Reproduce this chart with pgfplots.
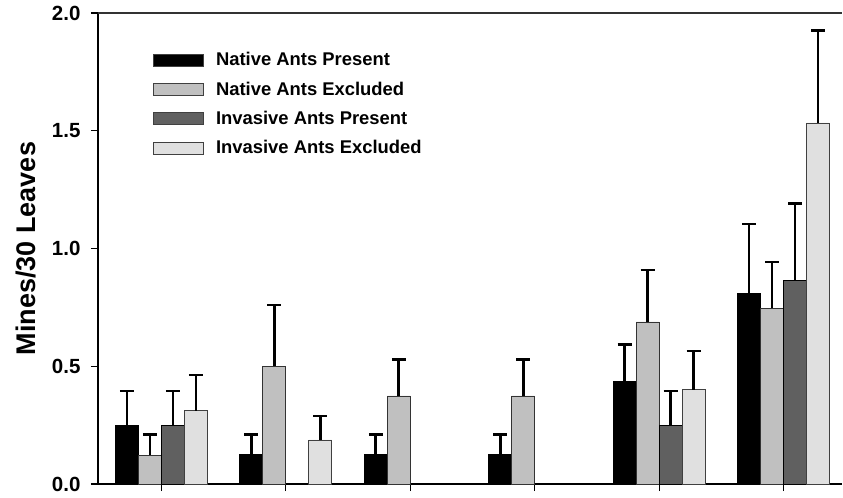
\documentclass[border=0pt]{standalone}
\usepackage{fontspec}
\setmainfont{Liberation Sans}
\usepackage{pgfplots}
\pgfplotsset{compat=1.18}
\definecolor{gA}{HTML}{000000}
\definecolor{gB}{HTML}{C0C0C0}
\definecolor{gC}{HTML}{606060}
\definecolor{gD}{HTML}{E0E0E0}
\begin{document}
\begin{tikzpicture}
\begin{axis}[
  scale only axis,
  width=744pt, height=471pt,
  ybar=0pt, bar width=23pt,
  xmin=0.49, xmax=6.47,
  ymin=0, ymax=2.0,
  axis x line*=bottom, axis y line*=left,
  axis line style={line width=1.5pt, -},
  xtick={1,2,3,4,5,6}, xticklabels={},
  ytick={0,0.5,1,1.5,2},
  tick align=outside, major tick length=7pt,
  tick style={line width=1.2pt, black},
  /pgf/number format/assume math mode=true,
  /pgf/number format/.cd, fixed, fixed zerofill, precision=1, /pgfplots/.cd,
  yticklabel style={font=\bfseries\fontsize{20.5}{23}\selectfont, xshift=-7pt},
  ylabel={Mines/30 Leaves},
  ylabel style={at={([xshift=-72pt]rel axis cs:0,0.5)}, anchor=center, font=\bfseries\fontsize{27}{30}\selectfont},
  clip=false,
  legend image code/.code={\draw[#1, line width=0.8pt, draw=black!75] (0pt,-6pt) rectangle (50pt,6pt); \path (60pt,0pt);},
  legend style={at={(rel axis cs:0.07,0.925)}, anchor=north west, draw=none, fill=none,
    font=\bfseries\fontsize{18.4}{22}\selectfont, row sep=10.5pt},
  legend cell align=left,
  error bars/y dir=plus, error bars/y explicit,
  error bars/error bar style={line width=2.8pt, black},
  error bars/error mark options={rotate=90, mark size=7pt, line width=2.8pt, black},
]
\addplot[fill=gA, draw=black, line width=0.8pt] coordinates {
  (1,0.25) +- (0,0.145)
  (2,0.125) +- (0,0.085)
  (3,0.125) +- (0,0.085)
  (4,0.125) +- (0,0.085)
  (5,0.437) +- (0,0.157)
  (6,0.811) +- (0,0.293)
};
\addplot[fill=gB, draw=black!80, line width=0.8pt] coordinates {
  (1,0.123) +- (0,0.087)
  (2,0.5) +- (0,0.26)
  (3,0.374) +- (0,0.156)
  (4,0.374) +- (0,0.156)
  (5,0.688) +- (0,0.221)
  (6,0.747) +- (0,0.196)
};
\addplot[fill=gC, draw=black, line width=0.8pt] coordinates {
  (1,0.25) +- (0,0.145)
  (5,0.25) +- (0,0.145)
  (6,0.866) +- (0,0.324)
};
\addplot[fill=gD, draw=black!75, line width=0.8pt] coordinates {
  (1,0.312) +- (0,0.151)
  (2,0.187) +- (0,0.102)
  (5,0.4) +- (0,0.165)
  (6,1.533) +- (0,0.391)
};
\legend{Native Ants Present, Native Ants Excluded, Invasive Ants Present, Invasive Ants Excluded}
\draw[line width=1.3pt, black!80] (rel axis cs:0,1) -- (rel axis cs:1,1);
\coordinate (ll) at (rel axis cs:0,0);
\coordinate (ur) at (rel axis cs:1,1);
\end{axis}
\path (ll) ++(-98pt,-11pt) coordinate (a);
\path (ur) ++(1pt,13pt) coordinate (b);
\useasboundingbox (a) rectangle (b);
\end{tikzpicture}
\end{document}
